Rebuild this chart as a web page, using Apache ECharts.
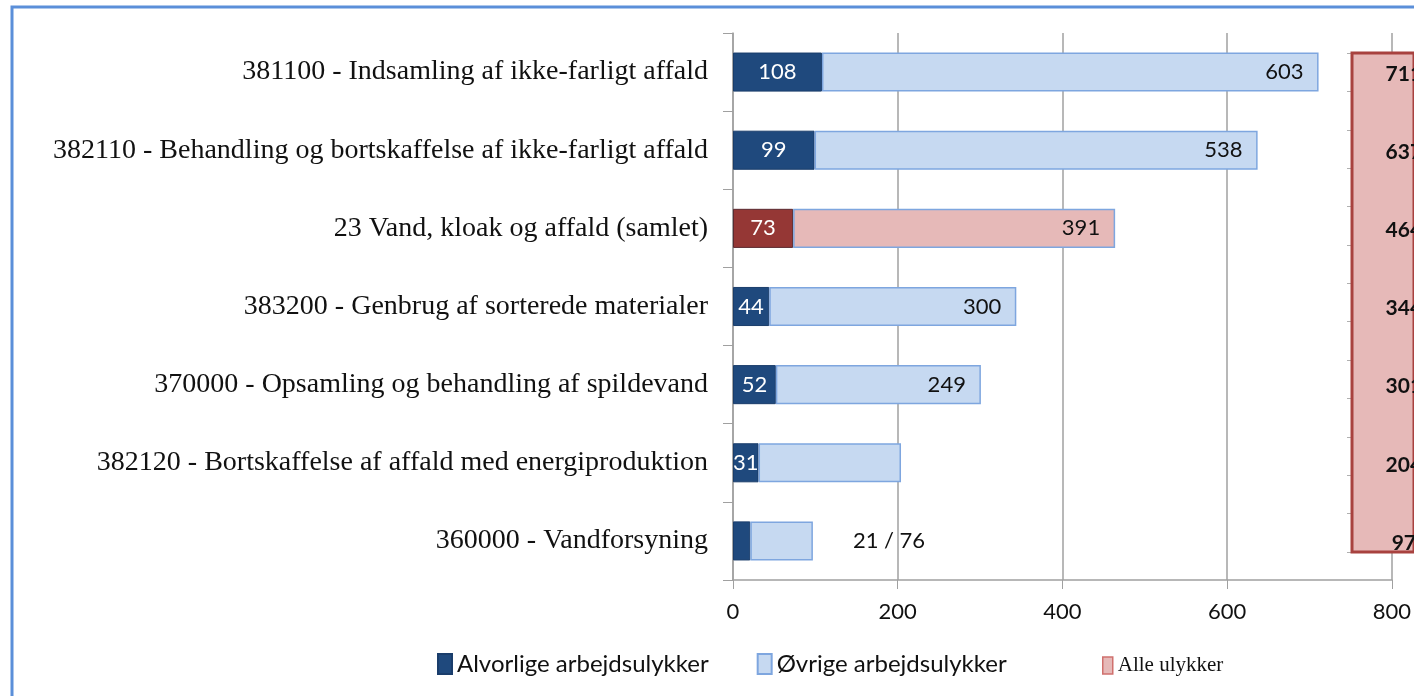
<!DOCTYPE html>
<html>
<head>
<meta charset="utf-8">
<script src="https://cdn.jsdelivr.net/npm/echarts@6/dist/echarts.min.js"></script>
<style>
  html, body { margin: 0; padding: 0; background: #fff; }
  #chart { width: 1414px; height: 696px; }
</style>
</head>
<body>
<div id="chart"></div>
<script>
// kategorier (øverst først)
const categories = [
  '381100 - Indsamling af ikke-farligt affald',
  '382110 - Behandling og bortskaffelse af ikke-farligt affald',
  '23 Vand, kloak og affald (samlet)',
  '383200 - Genbrug af sorterede materialer',
  '370000 - Opsamling og behandling af spildevand',
  '382120 - Bortskaffelse af affald med energiproduktion',
  '360000 - Vandforsyning'
]
const serious = [108, 99, 73, 44, 52, 31, 21]
const other = [603, 538, 391, 300, 249, 173, 76]
const totals = [711, 637, 464, 344, 301, 204, 97]
const xTicks = [0, 200, 400, 600, 800]

const sumIndex = 2 // samlet række vises i rødt

const chart = echarts.init(document.getElementById('chart'))

const sansFont = 'Lato, "Open Sans", sans-serif'
const serifFont = '"Liberation Serif", "DejaVu Serif", serif'

chart.setOption({
  backgroundColor: '#fff',
  animation: false,
  graphic: [{
    type: 'rect',
    shape: { x: 12, y: 7, width: 1500, height: 800 },
    style: { fill: 'none', stroke: '#5b8fd9', lineWidth: 3 },
    silent: true
  }],
  grid: [{
    left: 733,
    right: 20,
    top: 33,
    bottom: 116
  }, {
    show: true,
    z: 1,
    left: 1352,
    top: 53,
    width: 200,
    height: 499,
    backgroundColor: '#e6b9b8',
    borderColor: '#a8423f',
    borderWidth: 3
  }],
  legend: [{
    data: ['Alvorlige arbejdsulykker', 'Øvrige arbejdsulykker'],
    left: 437,
    top: 652,
    padding: 0,
    icon: 'rect',
    itemWidth: 14,
    itemHeight: 20,
    itemGap: 48,
    itemTextGap: 6,
    textStyle: { fontFamily: sansFont, fontSize: 24, color: '#111' }
  }, {
    data: [{
      name: 'Alle ulykker',
      itemStyle: { color: '#e6b9b8', borderColor: '#d0706d', borderWidth: 1.5 }
    }],
    left: 1102,
    top: 655,
    padding: 0,
    icon: 'rect',
    itemWidth: 10,
    itemHeight: 17,
    itemTextGap: 8,
    textStyle: { fontFamily: serifFont, fontSize: 21, color: '#111' }
  }],
  xAxis: [{
    type: 'value',
    min: 0,
    max: 800,
    interval: 200,
    axisLine: { show: true, lineStyle: { color: '#a0a0a0', width: 1.5 } },
    axisTick: { show: true, length: 9, lineStyle: { color: '#a0a0a0' } },
    splitLine: { show: true, lineStyle: { color: '#a0a0a0', width: 1.5 } },
    axisLabel: {
      margin: 21,
      fontFamily: sansFont,
      fontSize: 22,
      color: '#111',
      formatter: v => xTicks.includes(v) ? String(v) : ''
    }
  }, {
    gridIndex: 1,
    type: 'value',
    show: false
  }],
  yAxis: [{
    type: 'category',
    inverse: true,
    data: categories,
    axisLine: { show: true, lineStyle: { color: '#a0a0a0', width: 1.5 } },
    axisTick: { show: true, length: 10, lineStyle: { color: '#a0a0a0' } },
    axisLabel: {
      margin: 25,
      fontFamily: serifFont,
      fontSize: 28,
      color: '#111'
    }
  }, {
    gridIndex: 1,
    type: 'value',
    min: 0,
    max: 13,
    interval: 1,
    axisLine: { show: false },
    axisTick: { show: true, length: 5, lineStyle: { color: '#b0b0b0' } },
    axisLabel: { show: false },
    splitLine: { show: false }
  }],
  series: [{
    name: 'Alvorlige arbejdsulykker',
    type: 'bar',
    stack: 'total',
    barCategoryGap: '50%',
    itemStyle: { color: '#1f497d', borderColor: '#1a3d6b', borderWidth: 1 },
    label: {
      show: true,
      position: 'inside',
      color: '#fff',
      fontFamily: sansFont,
      fontSize: 22
    },
    data: serious.map((v, i) => {
      const item = { value: v }
      if (i === sumIndex) item.itemStyle = { color: '#953735', borderColor: '#5a2a30' }
      if (i === serious.length - 1) item.label = { show: false }
      return item
    })
  }, {
    name: 'Øvrige arbejdsulykker',
    type: 'bar',
    stack: 'total',
    itemStyle: { color: '#c6d9f1', borderColor: '#7ea6df', borderWidth: 1.5 },
    label: {
      show: true,
      position: 'insideRight',
      distance: 15,
      color: '#111',
      fontFamily: sansFont,
      fontSize: 22
    },
    data: other.map((v, i) => {
      const item = { value: v }
      if (i === sumIndex) item.itemStyle = { color: '#e6b9b8' }
      if (i === 5) item.label = { show: false }
      if (i === other.length - 1) {
        item.label = {
          show: true,
          position: 'right',
          distance: 40,
          formatter: () => serious[i] + ' / ' + other[i]
        }
      }
      return item
    })
  }, {
    name: 'Alle ulykker',
    type: 'custom',
    z: 5,
    itemStyle: { color: '#e6b9b8', borderColor: '#d0706d' },
    data: totals.map((v, i) => [v, i]),
    renderItem: (params, api) => {
      const y = api.coord([0, api.value(1)])[1]
      const cs = params.coordSys
      return {
        type: 'text',
        x: cs.x + cs.width + 12,
        y: y + 2,
        style: {
          text: String(api.value(0)),
          fill: '#111',
          font: 'bold 21px ' + sansFont,
          align: 'center',
          verticalAlign: 'middle'
        }
      }
    }
  }]
})
</script>
</body>
</html>
